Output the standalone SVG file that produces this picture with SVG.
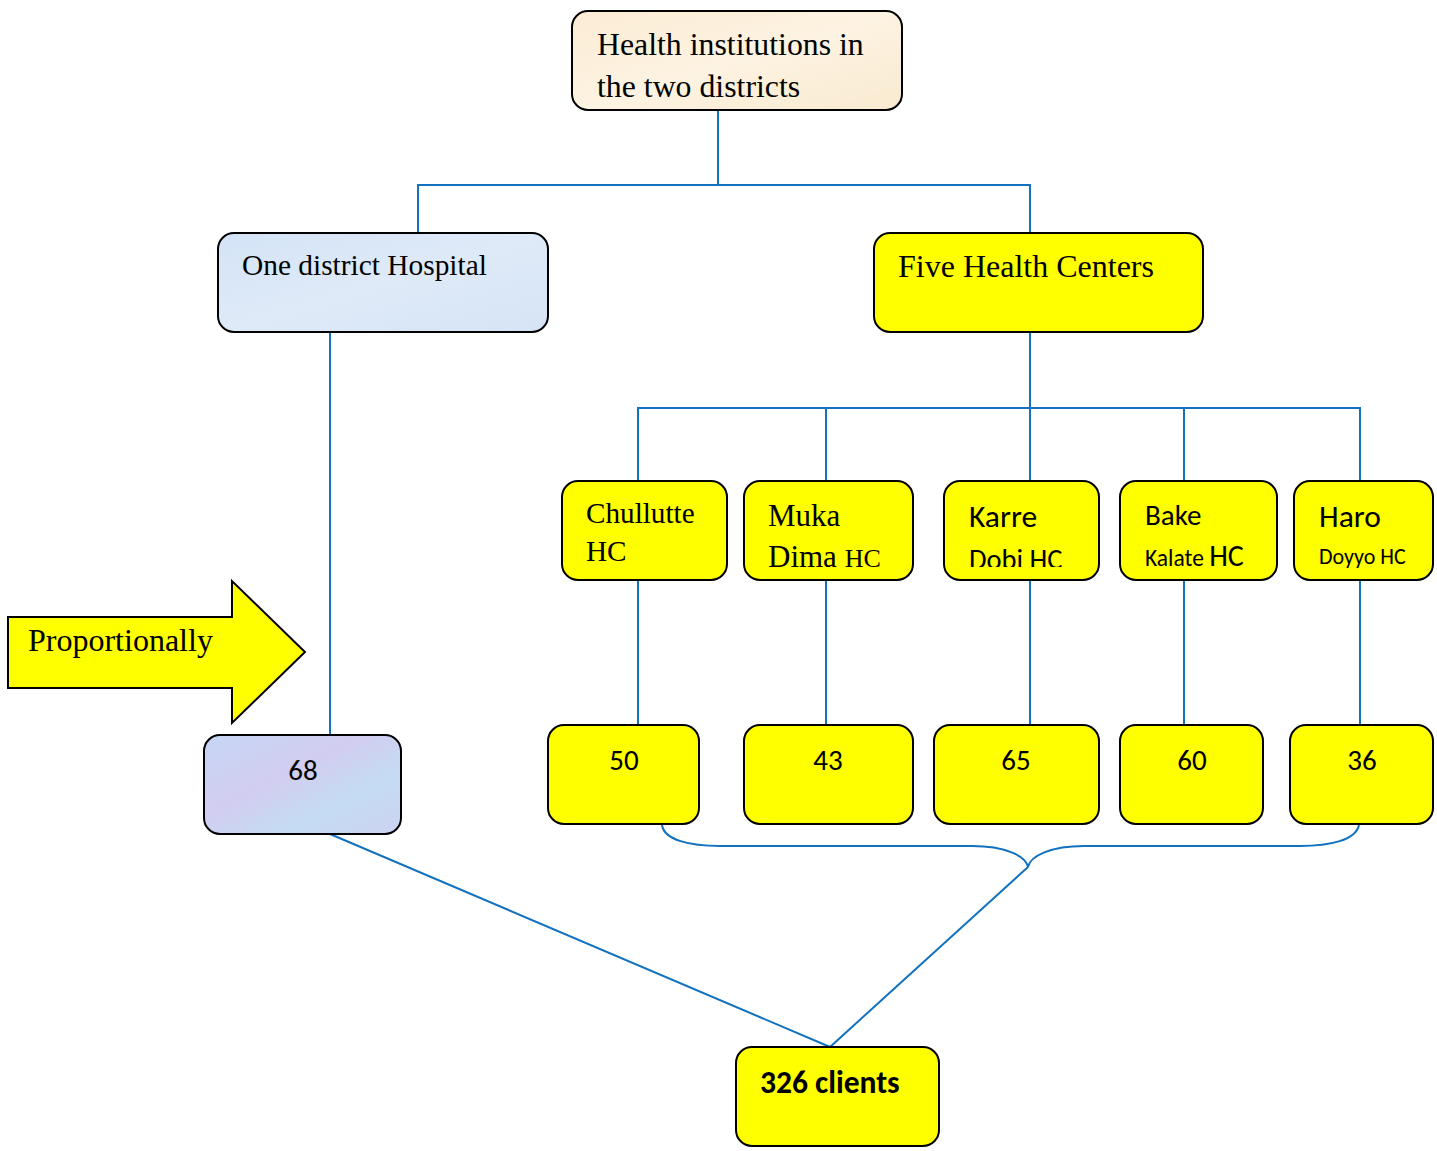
<svg xmlns="http://www.w3.org/2000/svg" width="1437" height="1151" viewBox="0 0 1437 1151">
<style>
.box{stroke:#000;stroke-width:2}
.y{fill:#ffff00}
.con{fill:none;stroke:#1272c0;stroke-width:2}
.serif{font-family:"Liberation Serif","Times New Roman",serif;fill:#000}
.sans{font-family:"Carlito","Lato","Liberation Sans",sans-serif;fill:#000}
</style>
<defs>
<linearGradient id="beige" x1="0" y1="0" x2="1" y2="1">
<stop offset="0" stop-color="#fbecd4"/><stop offset="0.5" stop-color="#fdf3e2"/><stop offset="1" stop-color="#f9ead0"/>
</linearGradient>
<linearGradient id="lblue" x1="0" y1="0" x2="1" y2="1">
<stop offset="0" stop-color="#d3e3f6"/><stop offset="0.5" stop-color="#dfeaf8"/><stop offset="1" stop-color="#d5e4f5"/>
</linearGradient>
<linearGradient id="lav" x1="0" y1="0" x2="1" y2="1">
<stop offset="0" stop-color="#c6d6f5"/><stop offset="0.4" stop-color="#d2cdf0"/><stop offset="0.7" stop-color="#c4dcf3"/><stop offset="1" stop-color="#cdd2f0"/>
</linearGradient>
<clipPath id="karreClip"><rect x="944" y="481" width="156" height="86"/></clipPath>
</defs>

<g id="connectors">
<path class="con" d="M718 110 V185 M418 233 V185 H1030 V233"/>
<path class="con" d="M330 332 V735"/>
<path class="con" d="M1030 332 V481 M638 481 V408 H1360 V481 M826 408 V481 M1184 408 V481"/>
<path class="con" d="M638 580 V725 M826 580 V725 M1030 580 V725 M1184 580 V725 M1360 580 V725"/>
<path class="con" d="M662 825 C664 840 690 846 720 846 H972 C1005 846 1026 856 1028 867 C1030 856 1051 846 1084 846 H1300 C1330 846 1356 840 1359 825"/>
<path class="con" d="M330 834 L830 1047 L1028 867"/>
</g>

<g id="top">
<rect class="box" x="572" y="11" width="330" height="99" rx="16" fill="url(#beige)"/>
<text class="serif" x="597" y="55" font-size="31.8">Health institutions in</text>
<text class="serif" x="597" y="97" font-size="31.8">the two districts</text>
</g>

<g id="hospital">
<rect class="box" x="218" y="233" width="330" height="99" rx="16" fill="url(#lblue)"/>
<text class="serif" x="242" y="275" font-size="29.4">One district Hospital</text>
</g>

<g id="five-hc">
<rect class="box y" x="874" y="233" width="329" height="99" rx="16"/>
<text class="serif" x="898" y="277" font-size="32">Five Health Centers</text>
</g>

<g id="chullutte">
<rect class="box y" x="562" y="481" width="165" height="99" rx="16"/>
<text class="serif" x="586" y="523" font-size="29.2">Chullutte</text>
<text class="serif" x="586" y="561" font-size="29.2">HC</text>
</g>

<g id="muka">
<rect class="box y" x="744" y="481" width="169" height="99" rx="16"/>
<text class="serif" x="768" y="526" font-size="31">Muka</text>
<text class="serif" x="768" y="567" font-size="31">Dima <tspan font-size="26">HC</tspan></text>
</g>

<g id="karre">
<rect class="box y" x="944" y="481" width="155" height="99" rx="16"/>
<text class="sans" x="969" y="527" font-size="31.5">Karre</text>
<text class="sans" x="969" y="569" font-size="28.5" clip-path="url(#karreClip)">Dobi HC</text>
</g>

<g id="bake">
<rect class="box y" x="1120" y="481" width="157" height="99" rx="16"/>
<text class="sans" x="1145" y="525" font-size="29">Bake</text>
<text class="sans" x="1145" y="566" font-size="23.5">Kalate <tspan font-size="30">HC</tspan></text>
</g>

<g id="haro">
<rect class="box y" x="1294" y="481" width="139" height="99" rx="16"/>
<text class="sans" x="1319" y="527" font-size="31.5">Haro</text>
<text class="sans" x="1319" y="564" font-size="22">Doyyo HC</text>
</g>

<g id="n50">
<rect class="box y" x="548" y="725" width="151" height="99" rx="16"/>
<text class="sans" x="624" y="770" font-size="29" text-anchor="middle">50</text>
</g>
<g id="n43">
<rect class="box y" x="744" y="725" width="169" height="99" rx="16"/>
<text class="sans" x="828" y="770" font-size="29" text-anchor="middle">43</text>
</g>
<g id="n65">
<rect class="box y" x="934" y="725" width="165" height="99" rx="16"/>
<text class="sans" x="1016" y="770" font-size="29" text-anchor="middle">65</text>
</g>
<g id="n60">
<rect class="box y" x="1120" y="725" width="143" height="99" rx="16"/>
<text class="sans" x="1192" y="770" font-size="29" text-anchor="middle">60</text>
</g>
<g id="n36">
<rect class="box y" x="1290" y="725" width="143" height="99" rx="16"/>
<text class="sans" x="1362" y="770" font-size="29" text-anchor="middle">36</text>
</g>

<g id="n68">
<rect class="box" x="204" y="735" width="197" height="99" rx="16" fill="url(#lav)"/>
<text class="sans" x="303" y="780" font-size="29" text-anchor="middle">68</text>
</g>

<g id="proportionally">
<path class="box y" d="M8 617 H232 V581 L305 652 L232 723 V688 H8 Z"/>
<text class="serif" x="28" y="651" font-size="32">Proportionally</text>
</g>

<g id="total">
<rect class="box y" x="736" y="1047" width="203" height="99" rx="16"/>
<text class="sans" x="760" y="1093" font-size="31.5" font-weight="bold">326 clients</text>
</g>
</svg>
